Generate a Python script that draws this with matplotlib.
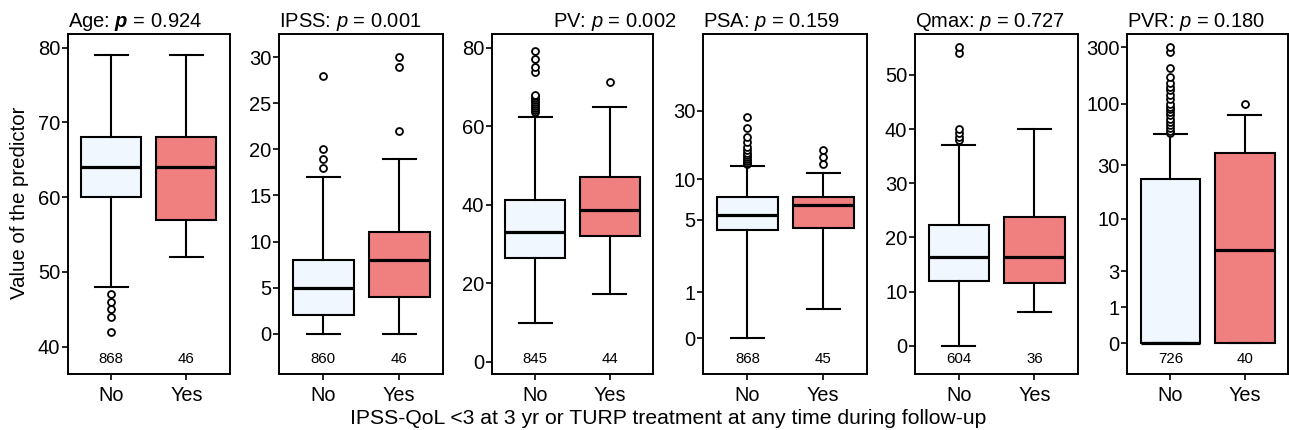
import numpy as np
import matplotlib
matplotlib.use("Agg")
import matplotlib.pyplot as plt
from matplotlib.ticker import FixedLocator, FixedFormatter, NullLocator

plt.rcParams['font.family'] = ['Liberation Sans', 'DejaVu Sans']
plt.rcParams['mathtext.fontset'] = 'custom'
plt.rcParams['mathtext.rm'] = 'Liberation Sans'
plt.rcParams['mathtext.it'] = 'Liberation Sans:italic'
plt.rcParams['mathtext.bf'] = 'Liberation Sans:bold'
plt.rcParams['mathtext.bfit'] = 'Liberation Sans:bold:italic'

# ---------------- data ----------------
groups = ["No", "Yes"]
panels = ["Age", "IPSS", "PV", "PSA", "Qmax", "PVR"]
p_values = ["0.924", "0.001", "0.002", "0.159", "0.727", "0.180"]
counts_no = [868, 860, 845, 868, 604, 726]
counts_yes = [46, 46, 44, 45, 36, 40]

# box stats: [whisker low, Q1, median, Q3, whisker high]
age_no = [48, 60, 64, 68, 79]
age_no_out = [47, 46, 45, 44, 42]
age_yes = [52, 57, 64, 68, 79]
age_yes_out = []

ipss_no = [0, 2, 5, 8, 17]
ipss_no_out = [18, 19, 20, 28]
ipss_yes = [0, 4, 8, 11, 19]
ipss_yes_out = [22, 29, 30]

pv_no = [10, 26.5, 33, 41.1, 62.3]
pv_no_out = [63.6, 64.1, 64.6, 65.1, 65.6, 66.1, 66.6, 67.1, 67.6, 68.0, 73.7, 75.2, 77.0, 79.2]
pv_yes = [17.3, 32.0, 38.6, 47.1, 64.8]
pv_yes_out = [71.3]

psa_no = [0, 4.1, 5.47, 7.44, 12.46]
psa_no_out = [12.8, 13.2, 13.6, 14.0, 14.5, 15.0, 15.5, 16.1, 17.0, 18.3, 19.8, 23.1, 27.4]
psa_yes = [0.55, 4.29, 6.52, 7.44, 11.2]
psa_yes_out = [12.8, 14.4, 16.1]

qmax_no = [0, 12.0, 16.4, 22.2, 37.0]
qmax_no_out = [37.9, 38.5, 39.2, 40.0, 54.0, 55.2]
qmax_yes = [6.3, 11.6, 16.4, 23.7, 40.0]
qmax_yes_out = []

pvr_no = [0, 0, 0, 22.9, 55.6]
pvr_no_out = [57, 59, 62, 66, 70, 75, 80, 85, 90, 95, 100, 110, 120, 130, 140, 150, 170, 200, 276, 300]
pvr_yes = [0, 0, 5.04, 38.3, 80.2]
pvr_yes_out = [100]

yticks = [
    [40, 50, 60, 70, 80],
    [0, 5, 10, 15, 20, 25, 30],
    [0, 20, 40, 60, 80],
    [0, 1, 5, 10, 30],
    [0, 10, 20, 30, 40, 50],
    [0, 1, 3, 10, 30, 100, 300],
]

xlabel = "IPSS-QoL <3 at 3 yr or TURP treatment at any time during follow-up"
ylabel = "Value of the predictor"

# ---------------- layout / style ----------------
W, H = 1289, 430
lefts = [67.7, 279.3, 491.7, 703.3, 915.0, 1127.3]
rights = [230.0, 443.3, 653.3, 867.3, 1078.3, 1288.0]
top_px, bot_px = 34.3, 374.0
ylims = [(36.35, 81.8), (-4.38, 32.5), (-3.1, 83.4), (-0.416, 97.4), (-5.23, 57.5), (-0.447, 386)]
logscale = [False, False, False, True, False, True]
colors = ["#F0F7FE", "#F08080"]

stats_all = [
    (age_no, age_no_out, age_yes, age_yes_out),
    (ipss_no, ipss_no_out, ipss_yes, ipss_yes_out),
    (pv_no, pv_no_out, pv_yes, pv_yes_out),
    (psa_no, psa_no_out, psa_yes, psa_yes_out),
    (qmax_no, qmax_no_out, qmax_yes, qmax_yes_out),
    (pvr_no, pvr_no_out, pvr_yes, pvr_yes_out),
]


def fwd(x):
    x = np.asarray(x, dtype=float)
    return np.log1p(np.maximum(x, -0.999))


def inv(y):
    return np.expm1(np.asarray(y, dtype=float))


def mkstat(b, out):
    return dict(whislo=b[0], q1=b[1], med=b[2], q3=b[3], whishi=b[4], fliers=np.array(out, dtype=float))


fig = plt.figure(figsize=(W / 100, H / 100), dpi=100)

for i, name in enumerate(panels):
    l, r = lefts[i], rights[i]
    ax = fig.add_axes([l / W, 1 - bot_px / H, (r - l) / W, (bot_px - top_px) / H])
    if logscale[i]:
        ax.set_yscale('function', functions=(fwd, inv))
    bn, on, by, oy = stats_all[i]
    st = [mkstat(bn, on), mkstat(by, oy)]
    bp = ax.bxp(st, positions=[1, 2], widths=0.8, capwidths=0.44, patch_artist=True,
                boxprops=dict(linewidth=1.5, edgecolor='black'),
                whiskerprops=dict(linewidth=1.5, color='black'),
                capprops=dict(linewidth=1.5, color='black'),
                medianprops=dict(linewidth=2.3, color='black'),
                flierprops=dict(marker='o', markersize=5, markerfacecolor='white',
                                markeredgecolor='black', markeredgewidth=1.3, linestyle='none'))
    for patch, c in zip(bp['boxes'], colors):
        patch.set_facecolor(c)
    ax.set_xlim(0.42, 2.58)
    ax.set_ylim(*ylims[i])
    ax.yaxis.set_major_locator(FixedLocator(yticks[i]))
    ax.yaxis.set_major_formatter(FixedFormatter([str(t) for t in yticks[i]]))
    ax.yaxis.set_minor_locator(NullLocator())
    ax.set_xticks([1, 2])
    ax.set_xticklabels(groups)
    ax.tick_params(axis='y', direction='out', length=4.3, width=1.2, labelsize=14.5, pad=1.2)
    ax.tick_params(axis='x', direction='out', length=4.3, width=1.2, labelsize=14.3, pad=4)
    for s in ax.spines.values():
        s.set_linewidth(1.4)
    # counts
    for pos, n in zip([1, 2], [counts_no[i], counts_yes[i]]):
        ax.text(pos, 0.045, str(n), transform=ax.get_xaxis_transform(), ha='center', va='center', fontsize=10.8)
    # title
    if name == "Age":
        ttl = name + r": $\mathbfit{p}$ = " + p_values[i]
    else:
        ttl = name + r": $\mathit{p}$ = " + p_values[i]
    tx = (553 - l) / (r - l) if name == "PV" else 0.0
    ax.text(tx, 1 + 7.6 / (bot_px - top_px), ttl, transform=ax.transAxes,
            ha='left', va='baseline', fontsize=14.5)

fig.text(20 / W, 1 - 203 / H, ylabel, rotation=90, ha='center', va='center', fontsize=14.7)
fig.text(668 / W, 1 - 424.3 / H, xlabel, ha='center', va='baseline', fontsize=15.2)

fig.savefig("out.png", dpi=100)
